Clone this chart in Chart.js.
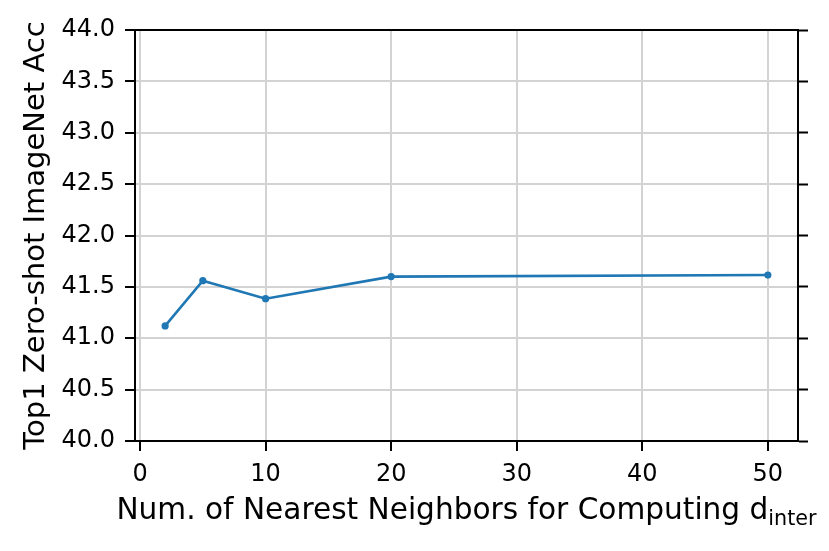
<!DOCTYPE html>
<html>
<head>
<meta charset="utf-8">
<script src="https://cdn.jsdelivr.net/npm/chart.js@4.4.1/dist/chart.umd.min.js"></script>
<style>
  body { margin: 0; background: #fff; }
  canvas { display: block; }
</style>
</head>
<body>
<canvas id="ch" width="829" height="551"></canvas>
<script>
// values
const neighbors = [2, 5, 10, 20, 50];
const accuracy = [41.12, 41.56, 41.385, 41.60, 41.615];
const xTicks = [0, 10, 20, 30, 40, 50];
const yTicks = [40.0, 40.5, 41.0, 41.5, 42.0, 42.5, 43.0, 43.5, 44.0];
const yLabel = 'Top1 Zero-shot ImageNet Acc';
const xLabel = 'Num. of Nearest Neighbors for Computing d';
const xLabelSub = 'inter';

const FONT = '"DejaVu Sans", sans-serif';

function setTicks(list) {
  return function (scale) {
    scale.ticks = list.map(v => ({ value: v }));
  };
}

// x title with a subscript, chart.js titles can't do that
const xTitlePlugin = {
  id: 'xTitle',
  afterDraw(chart) {
    const ctx = chart.ctx;
    const area = chart.chartArea;
    ctx.save();
    ctx.fillStyle = '#000';
    ctx.textBaseline = 'alphabetic';
    ctx.textAlign = 'left';
    ctx.font = '29.6px ' + FONT;
    const w1 = ctx.measureText(xLabel).width;
    ctx.font = '20.7px ' + FONT;
    const w2 = ctx.measureText(xLabelSub).width;
    let x = (area.left + area.right) / 2 - (w1 + w2) / 2;
    const y = area.bottom + 78;
    ctx.font = '29.6px ' + FONT;
    ctx.fillText(xLabel, x, y);
    ctx.font = '20.7px ' + FONT;
    ctx.fillText(xLabelSub, x + w1, y + 6);
    ctx.restore();
  }
};

const data = {
  datasets: [{
    label: 'acc',
    data: neighbors.map((n, i) => ({ x: n, y: accuracy[i] })),
    borderColor: '#1f77b4',
    backgroundColor: '#1f77b4',
    borderWidth: 2.6,
    pointRadius: 3.6,
    pointHoverRadius: 3.6,
    pointBorderWidth: 0,
    tension: 0,
    xAxisID: 'x',
    yAxisID: 'y'
  }]
};

const tickGrid = {
  color: '#d3d3d3',
  lineWidth: 2,
  drawTicks: true,
  tickLength: 10,
  tickColor: '#000',
  tickWidth: 2
};
const spine = { display: true, color: '#000', width: 2 };

const config = {
  type: 'line',
  data: data,
  options: {
    responsive: false,
    animation: false,
    devicePixelRatio: 1,
    layout: { padding: { top: 30, left: 0, right: 0, bottom: 0 } },
    plugins: {
      legend: { display: false },
      tooltip: { enabled: false }
    },
    scales: {
      x: {
        type: 'linear',
        position: 'bottom',
        min: -0.4,
        max: 52.4,
        afterBuildTicks: setTicks(xTicks),
        afterFit(scale) { scale.height = 110; },
        grid: tickGrid,
        border: spine,
        ticks: {
          color: '#000',
          font: { family: FONT, size: 24 },
          padding: 9,
          maxRotation: 0,
          callback: v => String(v)
        }
      },
      xTop: {
        type: 'linear',
        position: 'top',
        min: -0.4,
        max: 52.4,
        afterFit(scale) { scale.height = 0; },
        grid: { display: false, drawTicks: false },
        border: spine,
        ticks: { display: false }
      },
      y: {
        type: 'linear',
        position: 'left',
        min: 40,
        max: 44,
        afterBuildTicks: setTicks(yTicks),
        afterFit(scale) { scale.width = 135; },
        grid: tickGrid,
        border: spine,
        ticks: {
          color: '#000',
          font: { family: FONT, size: 24 },
          padding: 10,
          callback: v => Number(v).toFixed(1)
        },
        title: {
          display: true,
          text: yLabel,
          color: '#000',
          font: { family: FONT, size: 29 },
          padding: { top: 19, bottom: 0 }
        }
      },
      yRight: {
        type: 'linear',
        position: 'right',
        min: 40,
        max: 44,
        afterBuildTicks: setTicks(yTicks),
        afterFit(scale) { scale.width = 31; },
        grid: {
          drawOnChartArea: false,
          drawTicks: true,
          tickLength: 10,
          tickColor: '#000',
          tickWidth: 2
        },
        border: spine,
        ticks: {
          color: 'rgba(0,0,0,0)',
          font: { family: FONT, size: 24 },
          callback: v => Number(v).toFixed(1)
        }
      }
    }
  },
  plugins: [xTitlePlugin]
};

const myChart = new Chart(document.getElementById('ch'), config);
</script>
</body>
</html>
